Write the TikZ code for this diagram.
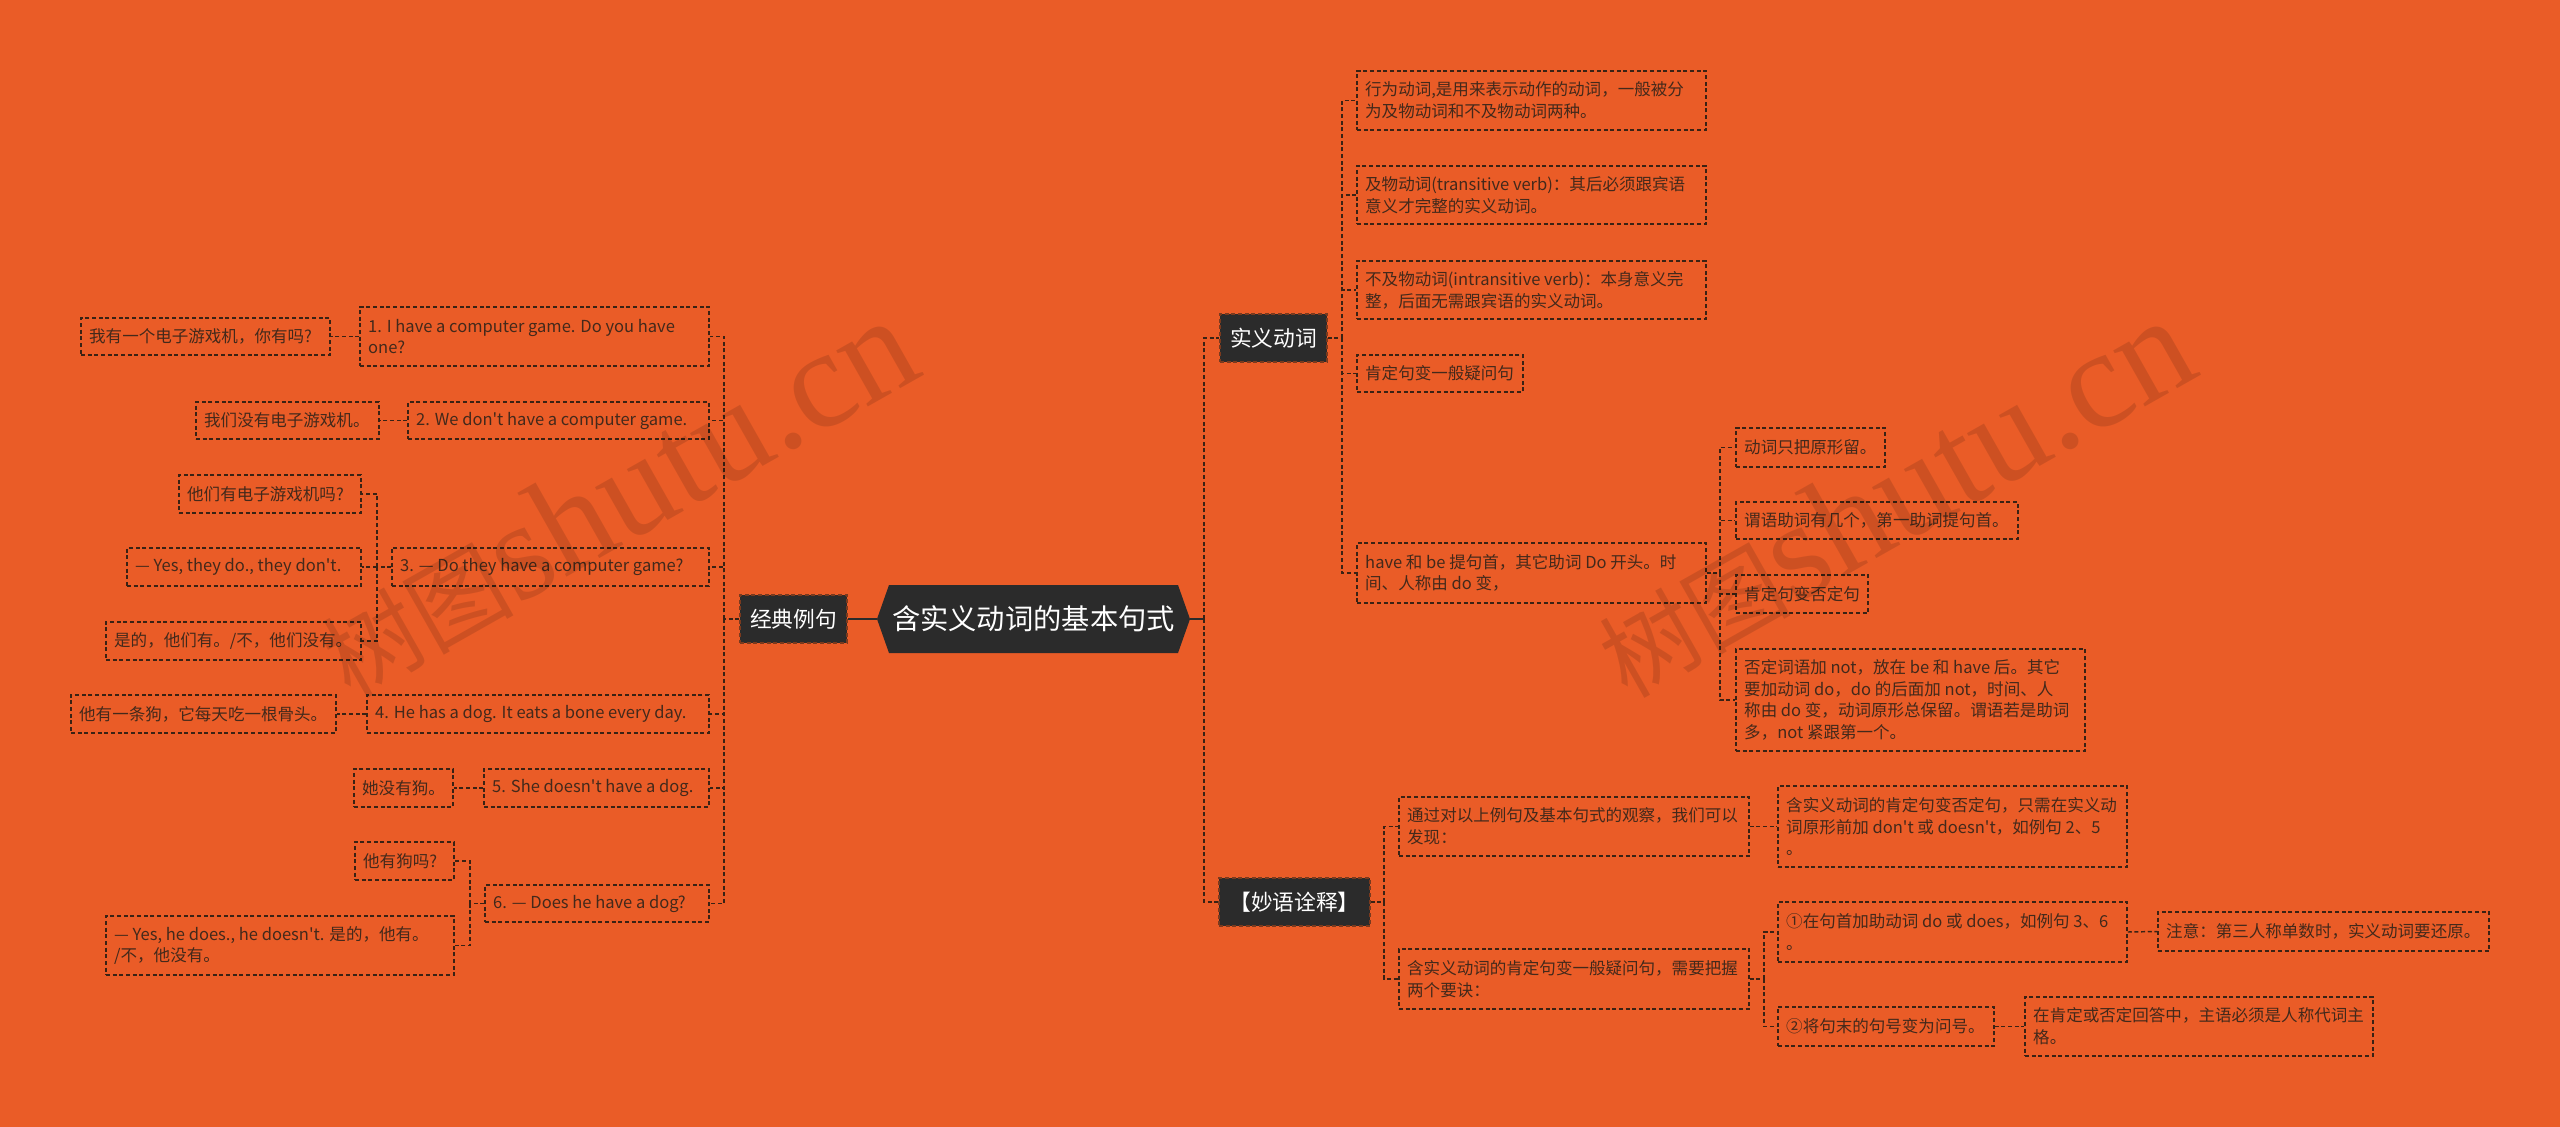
\documentclass[tikz,border=0pt]{standalone}
\usepackage{fontspec}
\setmainfont{Noto Sans CJK SC}[Ligatures=TeXOff]
\newfontfamily\wmcjk{Noto Sans CJK SC}
\newfontfamily\wmlat{Liberation Serif}
\definecolor{bg}{HTML}{EA5C27}
\definecolor{leafline}{HTML}{3A2214}
\definecolor{leaftext}{HTML}{43291B}
\definecolor{darkfill}{HTML}{2B2B2B}
\definecolor{branchline}{HTML}{7A3A1E}
\tikzset{
  leafbox/.style={draw=leafline, line width=1.1pt, dash pattern=on 3pt off 2pt, inner sep=0pt},
  leaftext/.style={text=leaftext, font=\fontsize{12.4}{16.3}\selectfont, align=left, inner sep=0pt},
  branch/.style={fill=darkfill, draw=branchline, line width=1pt, dash pattern=on 3pt off 2pt, text=white, font=\fontsize{16.3}{19}\selectfont, inner sep=0pt},
  conn/.style={draw=leafline, line width=1.1pt, dash pattern=on 3pt off 2pt},
  rootconn/.style={draw=darkfill, line width=2pt},
  wm/.style={text=black, text opacity=0.12, inner sep=0pt}
}
\newcommand\leaf[6]{%
  \node[leafbox, minimum width={(#4-#2)*0.75pt}, minimum height={(#5-#3)*0.75pt}] (#1) at ({(#2+#4)/2},{(#3+#5)/2}) {};
  \node[leaftext, anchor=west] (#1t) at ([xshift=6.5pt]#1.west) {#6};}
\begin{document}
\begin{tikzpicture}[x=0.75pt,y=-0.75pt]
\useasboundingbox (0,0) rectangle (2560,1127);
\fill[bg] (0,0) rectangle (2560,1127);

% root
\fill[darkfill] (877,619) -- (889,585) -- (1178,585) -- (1190,619) -- (1178,653) -- (889,653) -- cycle;
\node[text=white, font=\fontsize{21.2}{24}\selectfont, inner sep=0pt] (root) at (1033.5,619) {含实义动词的基本句式};
\coordinate (rootL) at (877,619);
\coordinate (rootR) at (1190,619);

% branches
\node[branch, minimum width={107*0.75pt}, minimum height={48*0.75pt}] (jd) at (793.5,619) {经典例句};
\node[branch, minimum width={107*0.75pt}, minimum height={48*0.75pt}] (sy) at (1273.5,338) {实义动词};
\node[branch, minimum width={151*0.75pt}, minimum height={48*0.75pt}] (mj) at (1294.5,902) {【妙语诠释】};

% left leaves
\leaf{cn1}{81}{318}{330}{355}{我有一个电子游戏机，你有吗?}
\leaf{ex1}{360}{307}{709}{366}{1. I have a computer game. Do you have\\one?}
\leaf{cn2}{196}{402}{379}{439}{我们没有电子游戏机。}
\leaf{ex2}{408}{402}{709}{439}{2. We don't have a computer game.}
\leaf{ex3}{392}{548}{709}{586}{3. — Do they have a computer game?}
\leaf{k31}{179}{475}{361}{513}{他们有电子游戏机吗?}
\leaf{k32}{127}{548}{361}{586}{— Yes, they do., they don't.}
\leaf{k33}{106}{622}{361}{660}{是的，他们有。/不，他们没有。}
\leaf{ex4}{367}{695}{709}{733}{4. He has a dog. It eats a bone every day.}
\leaf{cn4}{71}{695}{336}{733}{他有一条狗，它每天吃一根骨头。}
\leaf{ex5}{484}{769}{709}{807}{5. She doesn't have a dog.}
\leaf{cn5}{354}{769}{453}{807}{她没有狗。}
\leaf{ex6}{485}{885}{709}{922}{6. — Does he have a dog?}
\leaf{k61}{355}{842}{454}{880}{他有狗吗?}
\leaf{k62}{106}{916}{454}{975}{— Yes, he does., he doesn't. 是的，他有。\\/不，他没有。}

% right leaves
\leaf{r1}{1357}{71}{1706}{130}{行为动词,是用来表示动作的动词，一般被分\\为及物动词和不及物动词两种。}
\leaf{r2}{1357}{166}{1706}{224}{及物动词(transitive verb)：其后必须跟宾语\\意义才完整的实义动词。}
\leaf{r3}{1357}{261}{1706}{319}{不及物动词(intransitive verb)：本身意义完\\整，后面无需跟宾语的实义动词。}
\leaf{r4}{1357}{355}{1523}{392}{肯定句变一般疑问句}
\leaf{r5}{1357}{543}{1706}{603}{have 和 be 提句首，其它助词 Do 开头。时\\间、人称由 do 变，}
\leaf{h1}{1736}{428}{1885}{467}{动词只把原形留。}
\leaf{h2}{1736}{502}{2018}{539}{谓语助词有几个，第一助词提句首。}
\leaf{h3}{1736}{575}{1868}{613}{肯定句变否定句}
\leaf{h4}{1736}{649}{2085}{751}{否定词语加 not，放在 be 和 have 后。其它\\要加动词 do，do 的后面加 not，时间、人\\称由 do 变，动词原形总保留。谓语若是助词\\多，not 紧跟第一个。}
\leaf{m1}{1399}{797}{1749}{856}{通过对以上例句及基本句式的观察，我们可以\\发现：}
\leaf{m2}{1399}{949}{1749}{1009}{含实义动词的肯定句变一般疑问句，需要把握\\两个要诀：}
\leaf{m11}{1778}{786}{2127}{867}{含实义动词的肯定句变否定句，只需在实义动\\词原形前加 don't 或 doesn't，如例句 2、5\\。}
\leaf{m21}{1778}{902}{2127}{962}{①在句首加助动词 do 或 does，如例句 3、6\\。}
\leaf{m211}{2158}{912}{2489}{951}{注意：第三人称单数时，实义动词要还原。}
\leaf{m22}{1778}{1007}{1994}{1046}{②将句末的句号变为问号。}
\leaf{m221}{2025}{997}{2373}{1056}{在肯定或否定回答中，主语必须是人称代词主\\格。}

% connectors: root
\draw[rootconn] (rootL) -- (jd.east);
\coordinate (jR) at (1204,619);
\draw[rootconn] (rootR) -- (jR);
\draw[conn] (jR) |- (sy.west);
\draw[conn] (jR) |- (mj.west);

% left
\coordinate (jL) at (724,619);
\draw[conn] (jd.west) -- (jL);
\foreach \n in {ex1,ex2,ex3,ex4,ex5,ex6} \draw[conn] (jL) |- (\n.east);
\draw[conn] (ex1.west) -- (cn1.east);
\draw[conn] (ex2.west) -- (cn2.east);
\coordinate (j3) at (377,567);
\draw[conn] (ex3.west) -- (j3);
\foreach \n in {k31,k32,k33} \draw[conn] (j3) |- (\n.east);
\draw[conn] (ex4.west) -- (cn4.east);
\draw[conn] (ex5.west) -- (cn5.east);
\coordinate (j6) at (470,903.5);
\draw[conn] (ex6.west) -- (j6);
\foreach \n in {k61,k62} \draw[conn] (j6) |- (\n.east);

% right: shiyi
\coordinate (jS) at (1342,338);
\draw[conn] (sy.east) -- (jS);
\foreach \n in {r1,r2,r3,r4,r5} \draw[conn] (jS) |- (\n.west);
\coordinate (jH) at (1720,573);
\draw[conn] (r5.east) -- (jH);
\foreach \n in {h1,h2,h3,h4} \draw[conn] (jH) |- (\n.west);

% right: miaoyu
\coordinate (jM) at (1384,902);
\draw[conn] (mj.east) -- (jM);
\foreach \n in {m1,m2} \draw[conn] (jM) |- (\n.west);
\draw[conn] (m1.east) -- (m11.west);
\coordinate (jY) at (1764,979);
\draw[conn] (m2.east) -- (jY);
\foreach \n in {m21,m22} \draw[conn] (jY) |- (\n.west);
\draw[conn] (m21.east) -- (m211.west);
\draw[conn] (m22.east) -- (m221.west);

% watermarks
\node[wm, anchor=base west, rotate=29.5] (wm1) at (350,700) {{\wmcjk\fontsize{72}{72}\selectfont 树图}{\wmlat\fontsize{105}{105}\selectfont shutu.cn}};
\node[wm, anchor=base west, rotate=29.5] (wm2) at (1627,700) {{\wmcjk\fontsize{72}{72}\selectfont 树图}{\wmlat\fontsize{105}{105}\selectfont shutu.cn}};
\end{tikzpicture}
\end{document}
